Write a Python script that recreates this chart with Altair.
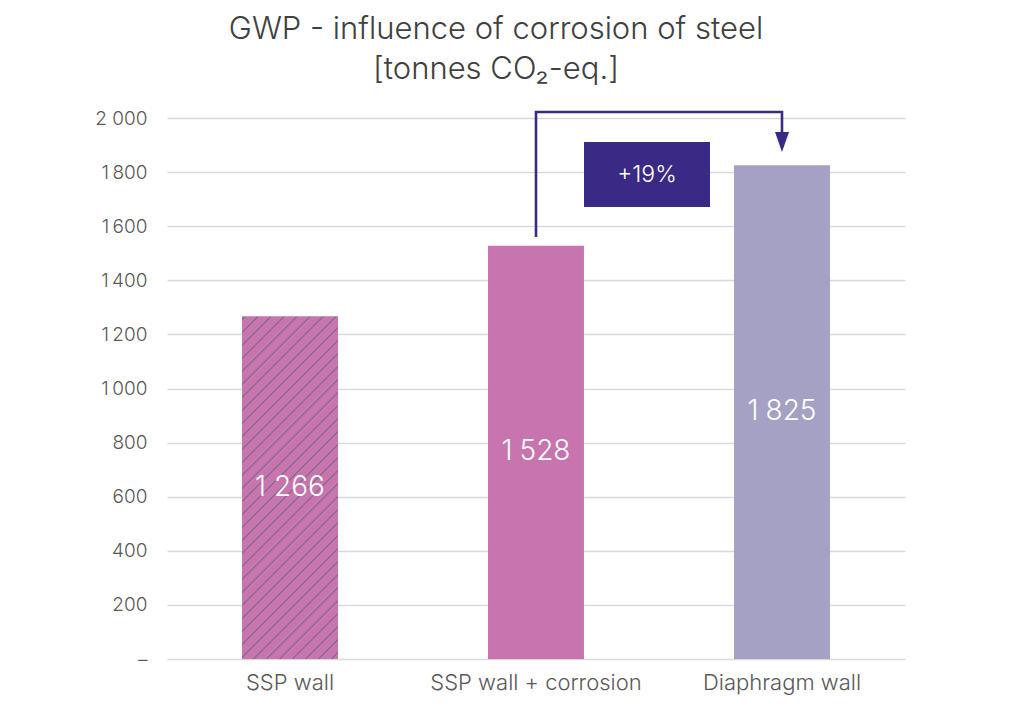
import json
import altair as alt
import pandas as pd

# ---------------- data ----------------
categories = ["SSP wall", "SSP wall + corrosion", "Diaphragm wall"]
values = [1266, 1528, 1825]
value_labels = ["1 266", "1\u2005528", "1\u2005825"]
bar_colors = ["#C874AE", "#C874AE", "#A5A1C4"]

y_ticks = [0, 200, 400, 600, 800, 1000, 1200, 1400, 1600, 1800, 2000]
y_tick_labels = ["–", "200", "400", "600", "800", "1\u2009000", "1\u2009200",
                 "1\u2009400", "1\u2009600", "1\u2009800", "2 000"]

# connector arrow (from bar 2 to bar 3)
conn_cats = ["SSP wall + corrosion", "SSP wall + corrosion", "Diaphragm wall", "Diaphragm wall"]
conn_vals = [1560, 2022, 2022, 1948]
arrow_cat = ["Diaphragm wall"]
arrow_val = [1911]

# percentage box
box_cat = ["SSP wall + corrosion"]
box_low = [1671]
box_high = [1911]
box_mid = [1791]
box_text = ["+19%"]

title_lines = ["GWP - influence of corrosion of steel", "[tonnes CO\u2082-eq.]"]

# ---------------- layout ----------------
PLOT_W, PLOT_H = 738, 541
P_INNER, P_OUTER = 0.61, 0.305
FONT = "Inter"
DARK = "#3A2A85"

bars_df = pd.DataFrame({"cat": categories, "value": values, "label": value_labels})
bars_df["half"] = bars_df["value"] / 2
conn_df = pd.DataFrame({"cat": conn_cats, "value": conn_vals, "order": list(range(len(conn_vals)))})
arrow_df = pd.DataFrame({"cat": arrow_cat, "value": arrow_val})
box_df = pd.DataFrame({"cat": box_cat, "low": box_low, "high": box_high, "mid": box_mid, "text": box_text})

x_scale = alt.Scale(domain=categories, paddingInner=P_INNER, paddingOuter=P_OUTER)
y_scale = alt.Scale(domain=[0, 2000], nice=False)

labels_expr = json.dumps(y_tick_labels, ensure_ascii=False) + "[round(datum.value / 200)]"

x_enc = alt.X("cat:N", scale=x_scale, sort=categories, title=None,
              axis=alt.Axis(labelAngle=0, labelFontSize=22, labelColor="#595959",
                            labelPadding=13, ticks=False, domain=False, labelFont=FONT,
                            labelFontWeight=300, labelLimit=400))
y_enc = alt.Y("value:Q", scale=y_scale, title=None,
              axis=alt.Axis(values=y_ticks, labelExpr=labels_expr, labelFontSize=19,
                            labelColor="#595959", labelPadding=20, ticks=False,
                            domain=False, grid=True, gridColor="#D9D9D9", gridWidth=1.3,
                            labelFont=FONT, labelFontWeight=300))

bars = alt.Chart(bars_df).mark_bar().encode(
    x=x_enc,
    y=y_enc,
    color=alt.Color("cat:N", scale=alt.Scale(domain=categories, range=bar_colors), legend=None),
)

# hatch pattern for the first bar, made with a hard-stop linear gradient
step = PLOT_W / (len(categories) - P_INNER + 2 * P_OUTER)
W = step * (1 - P_INNER)
H = values[0] / 2000 * PLOT_H
S = W + H
t = S / (W * W + H * H)
pink = bar_colors[0]
hatch = "#8A6E8C"
stops = [alt.GradientStop(color=pink, offset=0)]
c = 2.0
while c + 1.5 < S:
    a = c / S
    b = (c + 1.5) / S
    stops += [alt.GradientStop(color=pink, offset=a), alt.GradientStop(color=hatch, offset=a),
              alt.GradientStop(color=hatch, offset=b), alt.GradientStop(color=pink, offset=b)]
    c += 13.0
stops.append(alt.GradientStop(color=pink, offset=1))
grad = alt.LinearGradient(gradient="linear", stops=stops, x1=0, y1=0, x2=t * W, y2=t * H)

hatched = alt.Chart(bars_df).transform_filter(
    alt.datum.cat == categories[0]
).mark_bar(fill=grad).encode(x=alt.X("cat:N"), y=alt.Y("value:Q"))

bar_text = alt.Chart(bars_df).mark_text(color="white", fontSize=28, font=FONT,
                                        fontWeight=300).encode(
    x=alt.X("cat:N"), y=alt.Y("half:Q"), text="label:N"
)

conn = alt.Chart(conn_df).mark_line(color=DARK, strokeWidth=2.6, clip=False).encode(
    x=alt.X("cat:N"), y=alt.Y("value:Q"), order="order:Q"
)

arrow = alt.Chart(arrow_df).mark_point(
    shape="M-0.7,-1L0.7,-1L0,1Z", size=400, filled=True, color=DARK, opacity=1
).encode(x=alt.X("cat:N"), y=alt.Y("value:Q"))

box = alt.Chart(box_df).mark_bar(color=DARK, width=126, xOffset=111).encode(
    x=alt.X("cat:N"), y=alt.Y("low:Q"), y2="high:Q"
)
box_lbl = alt.Chart(box_df).mark_text(color="white", fontSize=23, dx=111, font=FONT,
                                      fontWeight=300).encode(
    x=alt.X("cat:N"), y=alt.Y("mid:Q"), text="text:N"
)

chart = alt.layer(bars, hatched, bar_text, conn, arrow, box, box_lbl).properties(
    width=PLOT_W,
    height=PLOT_H,
    autosize=alt.AutoSizeParams(type="none"),
    padding={"left": 159, "top": 110, "right": 100, "bottom": 45},
    title=alt.TitleParams(text=title_lines, fontSize=31, font=FONT, fontWeight=300,
                          color="#404040", lineHeight=40, anchor="middle", dx=-40,
                          offset=21),
).configure_view(stroke=None)

chart.save("out.html", embed_options={"renderer": "svg", "actions": False})
